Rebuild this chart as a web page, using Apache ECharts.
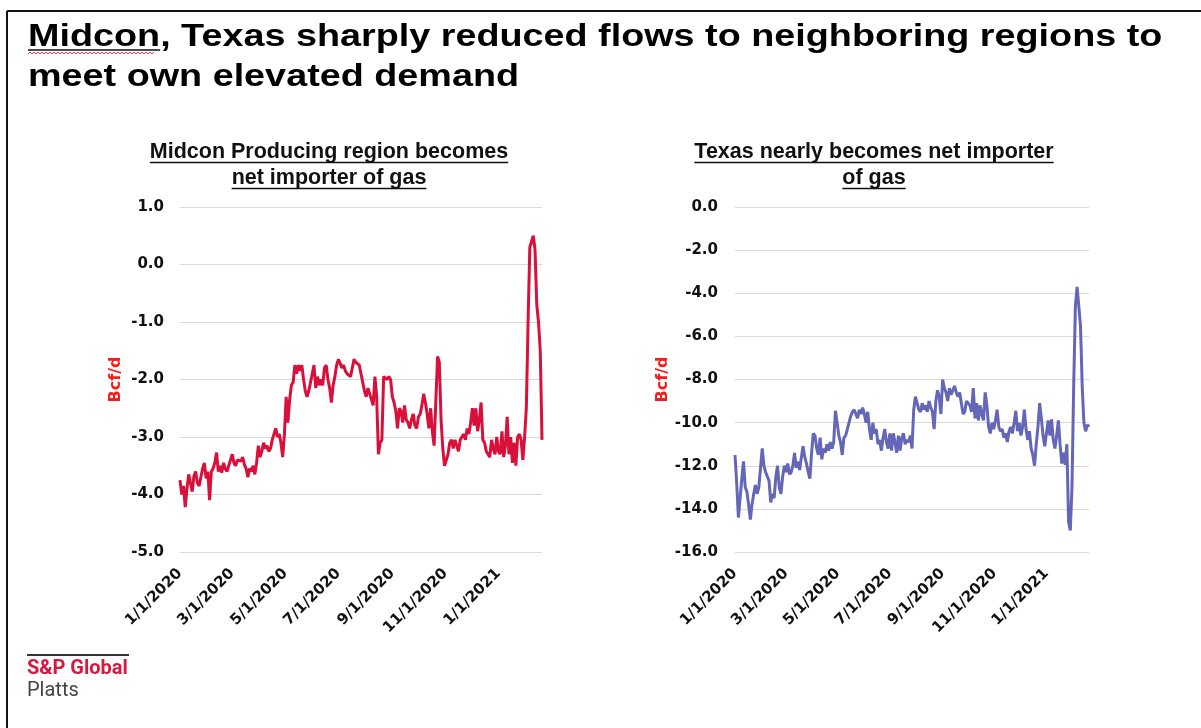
<!DOCTYPE html>
<html>
<head>
<meta charset="utf-8">
<script src="https://cdn.jsdelivr.net/npm/echarts@6/dist/echarts.min.js"></script>
<style>
html,body{margin:0;padding:0;background:#fff;}
#c{width:1201px;height:728px;}
</style>
</head>
<body>
<div id="c"></div>
<script>
// ---------- data ----------
const titleLines = ['Midcon, Texas sharply reduced flows to neighboring regions to', 'meet own elevated demand'];
const leftSubtitle = ['Midcon Producing region becomes', 'net importer of gas'];
const rightSubtitle = ['Texas nearly becomes net importer', 'of gas'];
const unitName = 'Bcf/d';
const logoLines = ['S&P Global', 'Platts'];

// x positions: days since 1/1/2020
const tickDays = [0, 60, 121, 182, 244, 305, 366];
const tickLabels = ['1/1/2020', '3/1/2020', '5/1/2020', '7/1/2020', '9/1/2020', '11/1/2020', '1/1/2021'];
const lastDay = 416; // 2/20/2021
const sampleStepDays = 2;

// Midcon Producing region net flow, Bcf/d (one value every 2 days from 1/1/2020)
const midcon = [
  -3.75,-4.0,-3.85,-4.22,-3.9,-3.65,-3.8,-3.95,-3.68,-3.6,
  -3.8,-3.85,-3.7,-3.55,-3.45,-3.72,-3.6,-4.1,-3.6,-3.55,
  -3.45,-3.27,-3.6,-3.5,-3.62,-3.45,-3.55,-3.6,-3.5,-3.4,
  -3.3,-3.45,-3.5,-3.4,-3.38,-3.42,-3.35,-3.48,-3.55,-3.7,
  -3.55,-3.6,-3.5,-3.65,-3.45,-3.15,-3.35,-3.25,-3.1,-3.2,
  -3.15,-3.25,-3.2,-3.05,-2.95,-2.85,-3.0,-2.95,-3.1,-3.35,
  -2.95,-2.3,-2.75,-2.35,-2.1,-2.05,-1.75,-1.9,-1.75,-1.85,
  -1.75,-2.0,-2.2,-2.3,-2.2,-2.05,-1.9,-1.75,-2.15,-1.95,
  -2.1,-2.0,-2.1,-1.8,-1.75,-2.0,-2.15,-2.4,-2.1,-1.95,
  -1.75,-1.65,-1.72,-1.8,-1.75,-1.85,-1.9,-1.88,-1.95,-1.8,
  -1.65,-1.7,-1.68,-1.75,-1.9,-2.05,-2.2,-2.3,-2.15,-2.25,
  -2.35,-2.45,-1.95,-2.3,-3.3,-3.1,-3.05,-1.95,-1.95,-2.0,
  -1.95,-2.0,-2.3,-2.4,-2.55,-2.85,-2.5,-2.55,-2.75,-2.45,
  -2.7,-2.75,-2.85,-2.7,-2.6,-2.8,-2.85,-2.65,-2.6,-2.45,
  -2.25,-2.4,-2.6,-2.85,-2.5,-2.9,-3.15,-3.15,-1.6,-1.7,
  -2.7,-3.2,-3.5,-3.4,-3.3,-3.1,-3.05,-3.2,-3.05,-3.15,
  -3.25,-3.05,-3.0,-2.95,-3.05,-2.85,-2.95,-2.75,-2.5,-2.8,
  -2.5,-2.9,-2.7,-2.4,-3.05,-3.1,-3.25,-3.3,-3.35,-3.05,
  -3.2,-3.3,-3.0,-3.25,-3.3,-2.9,-3.35,-3.15,-2.65,-3.3,
  -3.0,-3.45,-3.1,-3.5,-3.0,-2.95,-3.05,-3.4,-3.0,-2.5,
  -1.0,0.3,0.3,0.5,0.25,-0.7,-1.0,-1.5,-3.05
];

// Texas net flow, Bcf/d (one value every 2 days from 1/1/2020)
const texas = [
  -11.5,-12.8,-14.4,-14.4,-12.6,-11.8,-13.0,-13.2,-13.8,-14.5,
  -13.8,-13.3,-12.9,-13.3,-13.0,-12.1,-11.2,-12.0,-12.3,-12.5,
  -12.7,-13.7,-13.3,-13.5,-12.5,-12.0,-13.0,-13.3,-12.5,-12.0,
  -12.3,-11.9,-12.4,-12.3,-12.0,-11.4,-12.1,-11.8,-12.2,-11.6,
  -11.1,-11.6,-11.9,-12.3,-12.6,-11.4,-10.5,-10.6,-11.2,-11.5,
  -10.7,-11.7,-11.2,-11.4,-11.0,-11.3,-10.9,-11.2,-10.9,-9.45,
  -10.0,-10.6,-10.9,-11.5,-10.7,-10.6,-10.3,-10.0,-9.7,-9.5,
  -9.4,-9.4,-9.8,-9.4,-9.6,-9.3,-9.6,-10.0,-9.5,-10.3,
  -10.8,-10.0,-10.5,-10.3,-11.0,-10.8,-11.3,-10.7,-10.3,-10.9,
  -11.2,-10.5,-11.3,-10.5,-10.9,-11.4,-10.6,-11.3,-10.7,-10.5,
  -11.0,-10.8,-10.9,-10.6,-11.2,-9.4,-8.8,-9.1,-9.4,-9.5,
  -9.1,-9.4,-9.2,-9.5,-9.0,-9.3,-9.5,-10.3,-9.0,-8.5,
  -8.8,-9.6,-8.0,-8.4,-8.6,-9.0,-8.4,-8.7,-8.5,-8.3,
  -8.6,-8.8,-8.6,-9.1,-9.6,-9.5,-9.0,-9.0,-9.2,-9.5,
  -8.4,-9.8,-9.1,-9.9,-9.2,-9.6,-9.9,-8.6,-9.2,-10.2,
  -10.5,-10.0,-10.3,-9.9,-9.4,-10.2,-10.4,-10.3,-10.7,-10.5,
  -10.9,-10.4,-10.2,-10.5,-10.0,-9.45,-10.4,-10.0,-10.6,-10.2,
  -9.4,-10.3,-10.8,-10.4,-11.2,-11.5,-12.0,-11.0,-10.2,-9.1,
  -9.8,-10.6,-11.1,-10.5,-9.9,-10.6,-9.85,-10.8,-11.2,-10.6,
  -9.9,-11.0,-11.9,-11.4,-11.95,-11.0,-14.6,-15.0,-13.0,-8.3,
  -4.6,-3.7,-3.7,-5.5,-8.3,-10.0,-10.4,-10.1,-10.2
];

// ---------- build ----------
const sampleDays = midcon.map((_, i) => i * sampleStepDays);
const midconData = sampleDays.map((d, i) => [d, midcon[i]]);
const texasData = sampleDays.map((d, i) => [d, texas[i]]);

const chart = echarts.init(document.getElementById('c'), null, { renderer: 'canvas' });
const mctx = document.createElement('canvas').getContext('2d');
function textW(font, s) { mctx.font = font; return mctx.measureText(s).width; }

const TITLE_FONT = 'bold 32px "Liberation Sans", Arial, sans-serif';
const TITLE_SX = 1.18;
const SUB_FONT = 'bold 21.5px "Liberation Sans", Arial, sans-serif';
const LOGO_FONT_B = 'bold 20px Roboto, sans-serif';
const LOGO_FONT_R = '20px Roboto, sans-serif';

const tickFont = { fontFamily: 'DejaVu Sans', fontWeight: 'bold', fontSize: 15, color: '#111' };

function textEl(str, x, y, font, fill, align, sx) {
  return {
    type: 'text', x: x, y: y, scaleX: sx || 1, silent: true,
    style: { text: str, font: font, fill: fill, align: align, verticalAlign: 'middle',
             textAlign: align, textVerticalAlign: 'middle' }
  };
}
function lineEl(x1, y1, x2, y2, color, w) {
  return { type: 'line', silent: true, shape: { x1, y1, x2, y2 }, style: { stroke: color, lineWidth: w } };
}

const graphics = [];
// frame
graphics.push(lineEl(7, 11, 1201, 11, '#111', 2));
graphics.push(lineEl(7, 11, 7, 728, '#111', 2));
// title
graphics.push(textEl(titleLines[0], 28, 37, TITLE_FONT, '#000', 'left', TITLE_SX));
graphics.push(textEl(titleLines[1], 28, 77, TITLE_FONT, '#000', 'left', TITLE_SX));
const wMid = textW(TITLE_FONT, 'Midcon') * TITLE_SX;
graphics.push(lineEl(28, 50, 28 + wMid, 50, '#111', 1.5));
const wave = [];
for (let x = 28, k = 0; x <= 28 + wMid - 6; x += 2, k++) wave.push([x, k % 2 ? 52 : 54]);
graphics.push({ type: 'polyline', silent: true, shape: { points: wave }, style: { stroke: '#e8394d', lineWidth: 1, fill: null } });

// subtitles with underline
function subtitle(lines, cx) {
  const ys = [152.5, 178.5];
  lines.forEach((s, i) => {
    graphics.push(textEl(s, cx, ys[i], SUB_FONT, '#111', 'center'));
    const w = textW(SUB_FONT, s);
    const uy = ys[i] + 10;
    graphics.push(lineEl(cx - w / 2, uy, cx + w / 2, uy, '#111', 1.6));
  });
}
subtitle(leftSubtitle, 329);
subtitle(rightSubtitle, 874);

// logo
graphics.push(lineEl(27, 655, 129, 655, '#333', 2));
graphics.push(textEl(logoLines[0], 27, 669, LOGO_FONT_B, '#d7193f', 'left'));
graphics.push(textEl(logoLines[1], 27, 691, LOGO_FONT_R, '#444', 'left'));

function xAxisFor(g) {
  return {
    type: 'value', gridIndex: g, min: 0, max: lastDay,
    axisLine: { show: false }, axisTick: { show: false }, splitLine: { show: false },
    axisLabel: Object.assign({}, tickFont, {
      rotate: 45, margin: 19, customValues: tickDays,
      formatter: v => { const k = tickDays.indexOf(v); return k >= 0 ? tickLabels[k] : ''; }
    })
  };
}
function yAxisFor(g, min, max, interval, gap, margin) {
  return {
    type: 'value', gridIndex: g, min: min, max: max, interval: interval,
    name: unitName, nameLocation: 'middle', nameGap: gap, nameRotate: 90,
    nameTextStyle: { color: '#ff1a1a', fontWeight: 'bold', fontSize: 16, fontFamily: 'DejaVu Sans' },
    axisLine: { show: false }, axisTick: { show: false },
    splitLine: { lineStyle: { color: '#d9d9d9', width: 1 } },
    axisLabel: Object.assign({}, tickFont, { margin: margin, formatter: v => v.toFixed(1) })
  };
}

const option = {
  animation: false,
  backgroundColor: '#fff',
  grid: [
    { left: 180, top: 207, width: 362, height: 345 },
    { left: 735, top: 207, width: 354, height: 345 }
  ],
  xAxis: [xAxisFor(0), xAxisFor(1)],
  yAxis: [yAxisFor(0, -5, 1, 1, 56, 16), yAxisFor(1, -16, 0, 2, 62, 17)],
  series: [
    { type: 'line', xAxisIndex: 0, yAxisIndex: 0, data: midconData, showSymbol: false,
      lineStyle: { color: '#d8103a', width: 3 }, itemStyle: { color: '#d8103a' } },
    { type: 'line', xAxisIndex: 1, yAxisIndex: 1, data: texasData, showSymbol: false,
      lineStyle: { color: '#6467b8', width: 3 }, itemStyle: { color: '#6467b8' } }
  ],
  graphic: { elements: graphics }
};
chart.setOption(option);
</script>
</body>
</html>
